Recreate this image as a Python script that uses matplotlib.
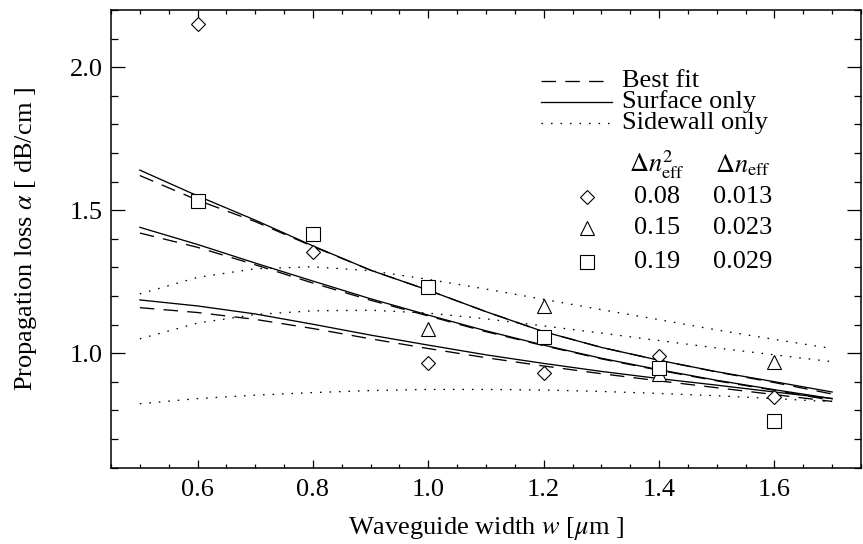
import numpy as np
import matplotlib.pyplot as plt
from matplotlib.ticker import MultipleLocator

plt.rcParams['font.family'] = ['Liberation Serif', 'DejaVu Serif']
plt.rcParams['mathtext.fontset'] = 'stix'

# measured loss for the three index contrasts
w_meas = [0.6, 0.8, 1.0, 1.2, 1.4, 1.6]
loss_008 = [2.15, 1.355, 0.966, 0.929, 0.989, 0.845]
w_tri = [1.0, 1.2, 1.4, 1.6]
loss_015 = [1.084, 1.165, 0.928, 0.97]
loss_019 = [1.531, 1.418, 1.233, 1.057, 0.949, 0.762]

# model curves, sampled every 0.1 um
w_fit = [0.5, 0.6, 0.7, 0.8, 0.9, 1.0, 1.1, 1.2, 1.3, 1.4, 1.5, 1.6, 1.7]
surf_hi = [1.64, 1.55, 1.465, 1.375, 1.29, 1.22, 1.145, 1.075, 1.02, 0.975, 0.935, 0.9, 0.864]
surf_mid = [1.44, 1.38, 1.315, 1.252, 1.19, 1.133, 1.078, 1.028, 0.982, 0.942, 0.905, 0.872, 0.841]
surf_lo = [1.186, 1.165, 1.137, 1.101, 1.063, 1.028, 0.994, 0.964, 0.936, 0.911, 0.888, 0.864, 0.841]
fit_hi = [1.621, 1.535, 1.46, 1.373, 1.29, 1.22, 1.145, 1.075, 1.02, 0.975, 0.934, 0.897, 0.857]
fit_mid = [1.42, 1.37, 1.309, 1.245, 1.185, 1.13, 1.075, 1.026, 0.98, 0.94, 0.903, 0.87, 0.835]
fit_lo = [1.159, 1.142, 1.118, 1.086, 1.05, 1.016, 0.984, 0.955, 0.928, 0.903, 0.879, 0.855, 0.831]
side_hi = [1.207, 1.265, 1.295, 1.302, 1.288, 1.258, 1.224, 1.188, 1.152, 1.117, 1.081, 1.048, 1.016]
side_mid = [1.05, 1.105, 1.135, 1.148, 1.15, 1.14, 1.12, 1.095, 1.07, 1.044, 1.018, 0.994, 0.97]
side_lo = [0.823, 0.841, 0.853, 0.862, 0.869, 0.873, 0.873, 0.871, 0.866, 0.859, 0.851, 0.841, 0.83]

dn2 = ['0.08', '0.15', '0.19']
dn = ['0.013', '0.023', '0.029']

fig = plt.figure(figsize=(8.63, 5.44), dpi=100)
ax = fig.add_axes([111/863, 1 - 467.5/544, 750/863, 457.5/544])

lw = 0.95
dash = (0, (11, 7))
dot = (0, (1.2, 6))
for y in (surf_hi, surf_mid, surf_lo):
    ax.plot(w_fit, y, color='k', lw=lw, ls='-')
for y in (fit_hi, fit_mid, fit_lo):
    ax.plot(w_fit, y, color='k', lw=lw, ls=dash)
for y in (side_hi, side_mid, side_lo):
    ax.plot(w_fit, y, color='k', lw=lw, ls=dot)

mk = dict(ls='none', mfc='white', mec='k', mew=0.8)
ax.plot(w_meas, loss_008, marker='D', ms=7, **mk)
ax.plot(w_tri, loss_015, marker='^', ms=10, **mk)
ax.plot(w_meas, loss_019, marker='s', ms=10.5, **mk)

ax.set_xlim(0.45, 1.75)
ax.set_ylim(0.6, 2.2)
ax.set_xticks([0.6, 0.8, 1.0, 1.2, 1.4, 1.6])
ax.set_xticklabels(['0.6', '0.8', '1.0', '1.2', '1.4', '1.6'])
ax.set_yticks([1.0, 1.5, 2.0])
ax.set_yticklabels(['1.0', '1.5', '2.0'])
ax.xaxis.set_minor_locator(MultipleLocator(0.05))
ax.yaxis.set_minor_locator(MultipleLocator(0.1))
ax.tick_params(which='both', direction='in', top=True, right=True, width=0.9,
               labelsize=19)
ax.tick_params(axis='x', which='major', length=6, pad=8)
ax.tick_params(axis='x', which='minor', length=3)
ax.tick_params(axis='y', which='major', length=10, pad=6)
ax.tick_params(axis='y', which='minor', length=5)
for s in ax.spines.values():
    s.set_linewidth(1.1)

ax.set_xlabel(r'Waveguide width $w$ [$\mu$m ]', fontsize=19, labelpad=10)
ax.set_ylabel(r'Propagation loss $\alpha$ [ dB/cm ]', fontsize=19, labelpad=22)

# key for the line styles
def fx(px):
    return (px - 111) / 750

def fy(py):
    return (467.5 - py) / 457.5

rows = [('Best fit', dash, 81), ('Surface only', '-', 102), ('Sidewall only', dot, 123)]
for label, style, py in rows:
    ax.plot([fx(541), fx(612)], [fy(py), fy(py)], color='k', lw=lw, ls=style,
            transform=ax.transAxes)
    ax.text(fx(622), fy(py), label, fontsize=19, va='center', ha='left',
            transform=ax.transAxes)

# key for the markers
ax.text(fx(657), fy(165), r'$\Delta n^2_{\rm eff}$', fontsize=19, ha='center',
        va='center', transform=ax.transAxes)
ax.text(fx(743), fy(165), r'$\Delta n_{\rm eff}$', fontsize=19, ha='center',
        va='center', transform=ax.transAxes)
keys = [('D', 7), ('^', 10), ('s', 10.5)]
for (m, ms), a, b, py in zip(keys, dn2, dn, [196.7, 228.3, 261.7]):
    ax.plot([fx(587)], [fy(py)], marker=m, ms=ms, transform=ax.transAxes,
            clip_on=False, **mk)
    ax.text(fx(657), fy(py), a, fontsize=19, ha='center', va='center',
            transform=ax.transAxes)
    ax.text(fx(743), fy(py), b, fontsize=19, ha='center', va='center',
            transform=ax.transAxes)

fig.savefig('out.png', dpi=100)
